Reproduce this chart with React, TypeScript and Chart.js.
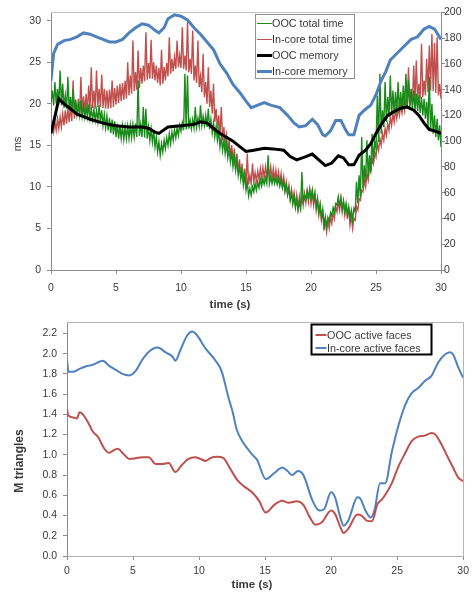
import React, { useEffect, useRef } from "react";
import { Chart, registerables } from "chart.js";

Chart.register(...registerables);

// ---------------- data: top chart (timings and memory) ----------------
const SAMPLE_STEP_S = 0.1; // the two timing traces are sampled every 0.1 s, from 0 to 30 s

// one row per second (10 samples), last value at t = 30 s
const oocTotalTime = [
  20.2, 21.6, 19.8, 22.6, 20.0, 21.8, 19.9, 24.0, 19.8, 22.4,
  19.5, 21.0, 19.4, 23.2, 19.2, 20.8, 19.1, 21.8, 19.0, 20.5,
  18.7, 19.8, 18.6, 20.4, 18.5, 19.7, 18.4, 19.6, 18.4, 19.9,
  18.2, 19.4, 18.1, 19.3, 18.0, 19.2, 17.9, 19.8, 17.8, 19.2,
  17.4, 18.7, 17.1, 18.5, 16.8, 18.3, 16.5, 18.1, 16.3, 17.9,
  16.0, 17.6, 15.8, 17.4, 15.8, 17.3, 15.7, 17.2, 15.8, 17.3,
  15.8, 17.4, 15.9, 17.5, 16.0, 17.6, 16.0, 22.8, 16.1, 17.5,
  16.0, 19.6, 15.9, 19.4, 15.8, 17.2, 15.6, 17.0, 15.4, 16.8,
  14.8, 16.0, 14.2, 15.4, 13.8, 15.2, 14.2, 15.6, 14.6, 15.9,
  15.0, 16.4, 15.2, 16.6, 15.6, 16.9, 15.9, 17.1, 16.2, 17.4,
  16.7, 17.7, 16.8, 23.6, 16.9, 23.4, 17.0, 18.0, 17.0, 18.1,
  17.1, 19.6, 17.2, 18.3, 17.3, 19.8, 17.4, 18.5, 17.4, 18.6,
  17.2, 19.4, 16.9, 18.1, 16.5, 17.7, 16.0, 17.2, 15.6, 16.8,
  14.8, 16.0, 14.4, 15.6, 14.0, 15.2, 13.5, 14.7, 13.0, 14.2,
  12.4, 13.6, 12.0, 13.2, 11.4, 12.6, 10.9, 12.0, 10.2, 11.4,
  9.6, 10.6, 8.9, 9.8, 9.0, 10.0, 9.4, 10.4, 9.6, 10.6,
  9.9, 10.9, 10.1, 11.0, 10.3, 11.1, 10.4, 13.8, 10.4, 11.2,
  10.4, 11.2, 10.4, 11.1, 10.3, 11.0, 10.1, 10.9, 9.9, 10.7,
  9.4, 10.2, 9.0, 9.8, 8.4, 9.3, 7.9, 8.9, 7.5, 8.5,
  7.2, 8.2, 7.4, 11.8, 8.0, 9.0, 8.5, 9.5, 8.7, 9.7,
  8.6, 9.6, 8.3, 9.3, 7.6, 8.6, 6.9, 7.9, 6.3, 7.3,
  5.3, 6.4, 5.2, 6.3, 5.8, 6.9, 6.5, 7.5, 7.0, 8.0,
  7.8, 8.8, 7.7, 8.7, 7.3, 8.3, 7.0, 8.0, 6.6, 7.6,
  6.2, 7.2, 6.0, 7.4, 7.0, 10.6, 8.0, 11.4, 8.8, 16.0,
  9.8, 12.6, 10.6, 15.6, 11.2, 13.8, 11.8, 16.4, 12.8, 15.4,
  14.6, 21.0, 15.4, 23.6, 16.4, 19.2, 17.2, 22.6, 17.8, 20.8,
  18.4, 23.4, 18.6, 21.6, 18.8, 21.4, 18.9, 22.6, 19.0, 21.4,
  19.2, 22.2, 19.4, 23.6, 19.6, 22.8, 19.6, 21.8, 19.4, 21.6,
  19.2, 21.2, 19.1, 21.0, 18.9, 20.8, 18.6, 20.6, 18.2, 20.2,
  17.2, 23.2, 16.8, 20.0, 16.4, 18.6, 16.0, 18.2, 15.6, 17.4,
  14.8,
];

const inCoreTotalTime = [
  16.5, 17.6, 16.6, 17.8, 16.8, 18.2, 17.0, 18.4, 17.2, 18.8,
  17.4, 19.2, 17.6, 19.4, 17.8, 19.8, 17.9, 22.8, 18.2, 20.2,
  18.5, 20.6, 18.7, 23.2, 18.8, 20.9, 19.0, 21.2, 19.0, 22.2,
  19.3, 24.4, 19.5, 21.6, 19.4, 24.0, 19.6, 21.8, 19.6, 23.5,
  19.5, 21.8, 19.4, 21.6, 19.4, 21.7, 19.5, 22.8, 19.6, 21.9,
  19.9, 22.2, 20.1, 22.4, 20.3, 22.5, 20.5, 22.8, 20.6, 25.0,
  21.0, 23.4, 21.2, 27.6, 21.5, 23.8, 21.7, 26.4, 21.9, 24.3,
  22.4, 24.6, 22.7, 28.6, 22.9, 24.9, 23.0, 27.7, 23.0, 25.0,
  22.8, 24.6, 22.5, 24.3, 22.2, 26.5, 22.4, 24.4, 22.8, 24.9,
  23.3, 28.0, 23.6, 25.4, 23.9, 25.6, 24.2, 27.6, 24.4, 25.8,
  24.3, 29.2, 24.2, 25.8, 24.0, 29.8, 23.8, 25.4, 23.6, 28.8,
  22.8, 24.6, 22.5, 27.6, 22.0, 23.3, 21.4, 26.0, 20.8, 22.6,
  20.0, 24.4, 19.6, 21.6, 18.8, 22.4, 17.8, 19.4, 17.0, 18.6,
  16.2, 19.6, 15.6, 17.2, 14.9, 16.2, 14.3, 15.6, 13.6, 15.0,
  13.0, 14.6, 12.4, 14.0, 11.7, 13.3, 11.1, 12.8, 10.6, 12.2,
  10.2, 14.0, 10.3, 11.4, 10.4, 12.8, 10.6, 11.7, 10.7, 11.9,
  10.9, 12.2, 11.0, 12.3, 11.1, 12.4, 11.2, 12.5, 11.1, 12.4,
  11.0, 12.2, 10.9, 12.0, 10.7, 11.8, 10.4, 11.6, 10.1, 11.2,
  9.6, 10.6, 9.2, 10.2, 8.6, 9.7, 8.2, 9.3, 7.8, 9.0,
  7.4, 8.8, 7.5, 8.9, 7.8, 9.2, 8.1, 9.5, 8.2, 9.6,
  8.0, 9.4, 7.8, 9.0, 7.2, 8.4, 6.6, 7.8, 6.0, 7.2,
  4.8, 6.0, 4.6, 6.0, 5.0, 6.4, 5.6, 6.9, 6.2, 7.6,
  7.0, 8.4, 7.2, 8.6, 7.0, 8.2, 6.6, 8.0, 6.2, 7.6,
  5.4, 6.6, 5.0, 6.2, 6.0, 7.6, 7.2, 8.6, 8.4, 9.6,
  9.4, 10.8, 10.0, 11.6, 10.8, 12.4, 11.8, 13.4, 12.8, 14.2,
  13.6, 15.2, 14.4, 15.8, 15.0, 16.4, 15.6, 17.0, 16.2, 17.6,
  16.8, 18.4, 17.4, 18.8, 17.8, 19.2, 18.2, 19.6, 18.6, 19.8,
  18.9, 20.4, 19.2, 20.6, 19.4, 24.4, 19.8, 21.2, 20.0, 24.6,
  20.2, 25.2, 20.4, 22.4, 20.6, 27.2, 20.8, 22.8, 21.0, 25.4,
  21.4, 27.0, 21.6, 28.4, 21.5, 27.3, 21.3, 28.0, 21.0, 22.4,
  20.6,
];

const oocMemoryTimes = [
  0, 0.3, 0.6, 1, 1.5, 2, 2.5, 3, 4, 5, 6, 7, 7.5, 8, 8.3, 9, 10, 11, 11.5, 12,
  12.5, 13, 13.5, 14, 14.5, 15, 15.6, 16.4, 17.1, 17.9, 18.4, 18.9, 19.6, 20.1,
  20.6, 21.1, 21.6, 22.1, 22.5, 22.9, 23.3, 23.7, 24.2, 24.6, 25, 25.4, 25.9,
  26.4, 26.9, 27.4, 27.9, 28.3, 28.7, 29.1, 29.5, 30,
];
const oocMemory = [
  106, 119, 133, 129, 125, 121, 119, 117, 114, 112, 111, 111, 110, 107, 106, 111, 112, 113, 115, 114,
  110, 106, 103, 100, 96, 92, 93, 94.5, 94, 93, 88, 85.5, 88, 90,
  85.5, 81, 83, 88.6, 87, 81.6, 81.6, 89, 93, 98, 106, 113, 120,
  123, 125.6, 126.4, 124, 120, 114, 109, 108, 106,
];

const inCoreMemoryTimes = [
  0, 0.2, 0.5, 1, 1.5, 2, 2.5, 3, 3.5, 4, 4.5, 5, 5.5, 6, 6.5, 7, 7.5, 8, 8.3, 8.7,
  9, 9.5, 10, 10.5, 11, 11.5, 12, 12.5, 13, 13.5, 14, 14.5, 15, 15.4, 16.4, 16.9,
  17.6, 18.2, 18.7, 19.1, 19.6, 20.1, 20.5, 20.9, 21.1, 21.5, 21.9, 22.3, 22.7,
  22.9, 23.3, 23.7, 24.1, 24.6, 25, 25.4, 25.75, 26.1, 26.6, 27.2, 27.7, 28.2,
  28.7, 29.1, 29.5, 30,
];
const inCoreMemory = [
  147, 168, 175, 178, 179, 181, 184, 183, 181, 179, 177, 177, 179, 184, 188, 191, 190, 186, 184, 188,
  195, 198, 197, 194, 188, 183, 177, 171, 160, 153, 144, 138, 131, 126, 130, 128,
  126, 120, 114, 111, 112, 117, 113, 105, 104, 108, 116, 116, 108,
  105, 105, 120, 124, 128, 136, 147, 154, 163, 168, 174, 179, 181,
  187, 189, 187, 179,
];

// ---------------- data: bottom chart (active faces, M triangles) ----------------
const oocFacesTimes = [
  0, 0.1, 0.45, 0.75, 0.95, 1.2, 1.6, 1.95, 2.33, 2.83, 3.2, 3.46, 3.83, 4.34, 4.7,
  5.2, 5.7, 6.2, 6.7, 7.2, 7.7, 8.2, 8.7, 9.2, 9.7, 10.1, 10.5, 10.85, 11.35, 11.85,
  12.2, 12.6, 12.9, 13.3, 14.05, 14.55, 15.05, 15.7, 16.3, 16.8, 17.4, 17.9, 18.4,
  18.8, 19.3, 20.0, 20.3, 20.7, 20.95, 21.3, 22.0, 22.3, 22.7, 23.1, 23.5, 23.85,
  24.2, 24.6, 25.1, 25.6, 26.1, 26.6, 27.1, 27.6, 27.9, 28.25, 28.75, 29.25, 29.6, 30,
];
const oocFaces = [
  1.45, 1.39, 1.37, 1.36, 1.42, 1.40, 1.32, 1.23, 1.18, 1.06, 1.02, 1.04, 1.06, 1.0, 0.96,
  0.967, 0.977, 0.977, 0.91, 0.91, 0.92, 0.83, 0.9, 0.96, 0.977, 0.96, 0.94, 0.967, 0.98, 0.967,
  0.9, 0.81, 0.75, 0.70, 0.626, 0.545, 0.43, 0.506, 0.545, 0.526, 0.54, 0.506, 0.38,
  0.31, 0.334, 0.45, 0.415, 0.286, 0.227, 0.27, 0.41, 0.40, 0.35, 0.344, 0.51, 0.56,
  0.626, 0.72, 0.886, 1.015, 1.135, 1.18, 1.19, 1.217, 1.2, 1.13, 1.0, 0.87, 0.78, 0.74,
];

const inCoreFacesTimes = [
  0, 0.12, 0.45, 0.95, 1.45, 1.95, 2.46, 2.7, 3.2, 3.7, 4.2, 4.7, 5.2, 5.7, 6.2,
  6.85, 7.5, 8.0, 8.2, 8.6, 9.1, 9.5, 9.85, 10.5, 11.2, 11.7, 12.2, 12.55, 12.85,
  13.3, 14.05, 14.4, 15.05, 15.7, 16.3, 16.7, 17.05, 17.5, 17.9, 18.6, 19.1, 19.45,
  20.0, 20.3, 20.7, 20.95, 21.3, 22.0, 22.2, 22.6, 23.0, 23.3, 23.7, 24.1, 24.6,
  25.1, 25.6, 26.1, 26.6, 27.1, 27.6, 28.1, 28.6, 29.0, 29.25, 29.6, 30,
];
const inCoreFaces = [
  1.93, 1.82, 1.82, 1.85, 1.875, 1.89, 1.92, 1.93, 1.88, 1.84, 1.80, 1.785, 1.83, 1.94, 2.02,
  2.06, 2.01, 1.97, 1.93, 2.04, 2.18, 2.22, 2.18, 2.05, 1.94, 1.83, 1.58, 1.42, 1.25,
  1.13, 1.0, 0.95, 0.76, 0.82, 0.876, 0.84, 0.80, 0.84, 0.80, 0.545, 0.45, 0.46,
  0.63, 0.58, 0.38, 0.30, 0.35, 0.58, 0.57, 0.45, 0.38, 0.46, 0.72, 0.72, 1.03,
  1.29, 1.49, 1.61, 1.66, 1.73, 1.78, 1.91, 1.99, 2.015, 1.99, 1.875, 1.76,
];

// ---------------- styling ----------------
const FONT = "'Liberation Sans', Arial, sans-serif";
const TEXT = "#3a3a3a";
const AXIS = "#8c8c8c";
const GREEN = "#1a8a1a";
const RED = "#c0504d";
const BLUE = "#4f81bd";
const BLACK = "#000000";

const sampled = (values: number[]) => values.map((y, i) => ({ x: +(i * SAMPLE_STEP_S).toFixed(2), y }));
const zip = (xs: number[], ys: number[]) => xs.map((x, i) => ({ x, y: ys[i] }));

// plot-area top / right frame lines
const framePlugin = {
  id: "frame",
  beforeDatasetsDraw(chart: any, _a: any, o: any) {
    const { ctx, chartArea } = chart;
    const { left, right, top, bottom } = chartArea;
    ctx.save();
    ctx.strokeStyle = o.color;
    ctx.lineWidth = 1;
    ctx.beginPath();
    if (o.top) {
      ctx.moveTo(left, Math.floor(top) + 0.5);
      ctx.lineTo(right, Math.floor(top) + 0.5);
    }
    if (o.right) {
      ctx.moveTo(Math.floor(right) + 0.5, top);
      ctx.lineTo(Math.floor(right) + 0.5, bottom);
    }
    ctx.stroke();
    ctx.restore();
  },
};

// boxed legend inside the plot area
const boxLegendPlugin = {
  id: "boxLegend",
  afterDraw(chart: any, _a: any, o: any) {
    const { ctx, chartArea } = chart;
    const x = Math.round(chartArea.left + o.dx) + 0.5;
    const y = Math.round(chartArea.top + o.dy) + 0.5;
    ctx.save();
    ctx.fillStyle = "#ffffff";
    ctx.fillRect(x, y, o.width, o.height);
    ctx.strokeStyle = o.borderColor;
    ctx.lineWidth = o.borderWidth;
    ctx.strokeRect(x, y, o.width, o.height);
    ctx.font = `${o.fontSize}px ${FONT}`;
    ctx.textBaseline = "middle";
    ctx.textAlign = "left";
    chart.data.datasets.forEach((ds: any, i: number) => {
      const cy = Math.round(y + o.firstRow + i * o.rowGap);
      const w = ds.legendLineWidth ?? ds.borderWidth;
      const off = w % 2 ? 0.5 : 0;
      ctx.strokeStyle = ds.borderColor;
      ctx.lineWidth = w;
      ctx.beginPath();
      ctx.moveTo(x + o.lineStart, cy + off);
      ctx.lineTo(x + o.lineStart + o.lineLen, cy + off);
      ctx.stroke();
      ctx.fillStyle = TEXT;
      ctx.fillText(ds.label, x + o.textStart, cy + 1);
    });
    ctx.restore();
  },
};

// axis titles placed like the original (Excel offsets them from the axis centre)
const axisTitlesPlugin = {
  id: "axisTitles",
  afterDraw(chart: any, _a: any, o: any) {
    const { ctx } = chart;
    (o.items || []).forEach((it: any) => {
      ctx.save();
      ctx.translate(it.x, it.y);
      if (it.vertical) ctx.rotate(-Math.PI / 2);
      ctx.font = `${it.bold ? "bold " : ""}${it.size}px ${FONT}`;
      ctx.fillStyle = TEXT;
      ctx.textAlign = "center";
      ctx.textBaseline = "middle";
      ctx.fillText(it.text, 0, 0);
      ctx.restore();
    });
  },
};

const tickFont = { family: FONT, size: 10.5 };
const axisGrid = { drawOnChartArea: false, drawTicks: true, tickLength: 4, color: AXIS };

function TopChart() {
  const ref = useRef<HTMLCanvasElement | null>(null);
  useEffect(() => {
    if (!ref.current) return;
    const chart = new Chart(ref.current, {
      type: "line",
      data: {
        datasets: [
          {
            label: "OOC total time",
            data: sampled(oocTotalTime),
            borderColor: GREEN,
            borderWidth: 1.4,
            legendLineWidth: 1,
            pointRadius: 0,
            yAxisID: "y",
            order: 3,
          },
          {
            label: "In-core total time",
            data: sampled(inCoreTotalTime),
            borderColor: RED,
            borderWidth: 1.4,
            legendLineWidth: 1,
            pointRadius: 0,
            yAxisID: "y",
            order: 4,
          },
          {
            label: "OOC memory",
            data: zip(oocMemoryTimes, oocMemory),
            borderColor: BLACK,
            borderWidth: 3,
            pointRadius: 0,
            yAxisID: "y1",
            order: 1,
          },
          {
            label: "In-core memory",
            data: zip(inCoreMemoryTimes, inCoreMemory),
            borderColor: BLUE,
            borderWidth: 3,
            pointRadius: 0,
            yAxisID: "y1",
            order: 2,
          },
        ],
      } as any,
      options: {
        animation: false,
        responsive: false,
        devicePixelRatio: 1,
        layout: { padding: { top: 12, left: 0, right: 0, bottom: 0 } },
        plugins: {
          legend: { display: false },
          tooltip: { enabled: false },
          frame: { color: "#c4c4c4", top: true, right: false },
          boxLegend: {
            dx: 204,
            dy: 2,
            width: 99,
            height: 64,
            borderColor: "#8f8f8f",
            borderWidth: 1,
            fontSize: 10.8,
            firstRow: 8.5,
            rowGap: 16,
            lineStart: 1.5,
            lineLen: 15,
            textStart: 16.5,
          },
          axisTitles: {
            items: [
              { text: "ms", x: 18, y: 144, vertical: true, bold: false, size: 11 },
              { text: "time (s)", x: 230, y: 304.5, vertical: false, bold: true, size: 11.5 },
            ],
          },
        } as any,
        scales: {
          x: {
            type: "linear",
            min: 0,
            max: 30,
            afterFit: (s: any) => {
              s.height = 40;
            },
            ticks: { stepSize: 5, font: tickFont, color: TEXT, padding: 8, maxRotation: 0 },
            grid: axisGrid,
            border: { color: AXIS, width: 1 },
          },
          y: {
            type: "linear",
            position: "left",
            min: 0,
            max: 31,
            afterFit: (s: any) => {
              s.width = 51;
            },
            ticks: { stepSize: 5, includeBounds: false, font: tickFont, color: TEXT, padding: 6 },
            grid: axisGrid,
            border: { color: AXIS, width: 1 },
          },
          y1: {
            type: "linear",
            position: "right",
            min: 0,
            max: 200,
            afterFit: (s: any) => {
              s.width = 33;
            },
            ticks: { stepSize: 20, font: tickFont, color: TEXT, padding: -1 },
            grid: axisGrid,
            border: { color: AXIS, width: 1 },
          },
        },
      } as any,
      plugins: [framePlugin, boxLegendPlugin, axisTitlesPlugin],
    });
    return () => chart.destroy();
  }, []);
  return <canvas ref={ref} width={474} height={310} style={{ display: "block", width: 474, height: 310 }} />;
}

function BottomChart() {
  const ref = useRef<HTMLCanvasElement | null>(null);
  useEffect(() => {
    if (!ref.current) return;
    const chart = new Chart(ref.current, {
      type: "line",
      data: {
        datasets: [
          {
            label: "OOC active faces",
            data: zip(oocFacesTimes, oocFaces),
            borderColor: RED,
            borderWidth: 2,
            pointRadius: 0,
            cubicInterpolationMode: "monotone",
          },
          {
            label: "In-core active faces",
            data: zip(inCoreFacesTimes, inCoreFaces),
            borderColor: BLUE,
            borderWidth: 2,
            pointRadius: 0,
            cubicInterpolationMode: "monotone",
          },
        ],
      },
      options: {
        animation: false,
        responsive: false,
        devicePixelRatio: 1,
        layout: { padding: { top: 9, left: 0, right: 8, bottom: 0 } },
        plugins: {
          legend: { display: false },
          tooltip: { enabled: false },
          frame: { color: "#b4b4b4", top: true, right: true },
          boxLegend: {
            dx: 244,
            dy: 2,
            width: 120,
            height: 30,
            borderColor: "#000000",
            borderWidth: 2,
            fontSize: 10.8,
            firstRow: 10.5,
            rowGap: 13.3,
            lineStart: 4,
            lineLen: 11,
            textStart: 15.5,
          },
          axisTitles: {
            items: [
              { text: "M triangles", x: 20, y: 151, vertical: true, bold: true, size: 12 },
              { text: "time (s)", x: 252, y: 275, vertical: false, bold: true, size: 11.5 },
            ],
          },
        } as any,
        scales: {
          x: {
            type: "linear",
            min: 0,
            max: 30,
            afterFit: (s: any) => {
              s.height = 37;
            },
            ticks: { stepSize: 5, font: tickFont, color: TEXT, padding: 5, maxRotation: 0 },
            grid: axisGrid,
            border: { color: "#b0b0b0", width: 1 },
          },
          y: {
            type: "linear",
            position: "left",
            min: 0,
            max: 2.31,
            afterFit: (s: any) => {
              s.width = 67;
            },
            ticks: {
              stepSize: 0.2,
              includeBounds: false,
              font: tickFont,
              color: TEXT,
              padding: 6,
              callback: (v: any) => Number(v).toFixed(1),
            },
            grid: axisGrid,
            border: { color: AXIS, width: 1 },
          },
        },
      } as any,
      plugins: [framePlugin, boxLegendPlugin, axisTitlesPlugin],
    });
    return () => chart.destroy();
  }, []);
  return <canvas ref={ref} width={474} height={283} style={{ display: "block", width: 474, height: 283 }} />;
}

export default function App() {
  return (
    <div style={{ position: "fixed", left: 0, top: 0, width: 474, height: 593, background: "#ffffff" }}>
      <TopChart />
      <BottomChart />
    </div>
  );
}
